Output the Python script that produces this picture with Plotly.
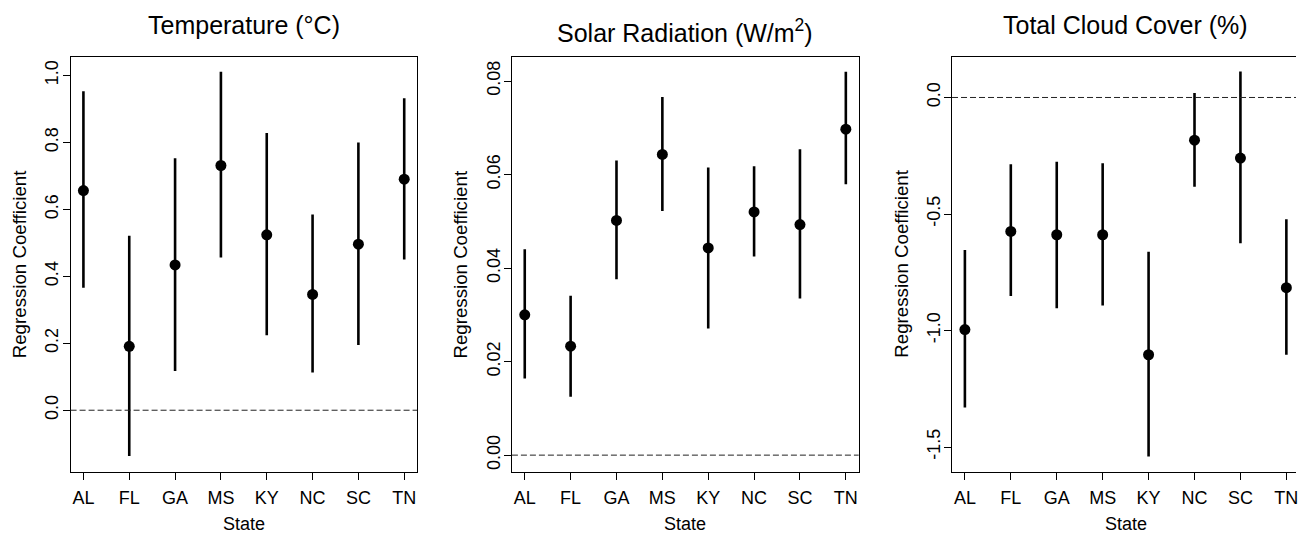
import plotly.graph_objects as go

# ---------------- data ----------------
states = ["AL", "FL", "GA", "MS", "KY", "NC", "SC", "TN"]

temp_est = [0.656, 0.191, 0.434, 0.731, 0.524, 0.346, 0.496, 0.690]
temp_lo = [0.366, -0.137, 0.117, 0.456, 0.224, 0.113, 0.195, 0.450]
temp_hi = [0.953, 0.521, 0.753, 1.011, 0.828, 0.585, 0.800, 0.932]

solar_est = [0.0300, 0.0233, 0.0502, 0.0643, 0.0443, 0.0520, 0.0493, 0.0697]
solar_lo = [0.0164, 0.0125, 0.0376, 0.0522, 0.0271, 0.0425, 0.0335, 0.0579]
solar_hi = [0.0440, 0.0341, 0.0630, 0.0766, 0.0615, 0.0618, 0.0654, 0.0820]

cloud_est = [-0.996, -0.575, -0.589, -0.589, -1.104, -0.183, -0.260, -0.816]
cloud_lo = [-1.330, -0.852, -0.904, -0.893, -1.541, -0.383, -0.626, -1.104]
cloud_hi = [-0.655, -0.286, -0.276, -0.282, -0.662, 0.019, 0.111, -0.523]

temp_ticks = [0.0, 0.2, 0.4, 0.6, 0.8, 1.0]
temp_ticktext = ["0.0", "0.2", "0.4", "0.6", "0.8", "1.0"]
solar_ticks = [0.00, 0.02, 0.04, 0.06, 0.08]
solar_ticktext = ["0.00", "0.02", "0.04", "0.06", "0.08"]
cloud_ticks = [0.0, -0.5, -1.0, -1.5]
cloud_ticktext = ["0.0", "-0.5", "-1.0", "-1.5"]

titles = ["Temperature (°C)", "Solar Radiation (W/m<sup>2</sup>)", "Total Cloud Cover (%)"]
xlabel = "State"
ylabel = "Regression Coefficient"
reference_value = 0

# ---------------- layout geometry ----------------
W, H = 1298, 534
FONT = "Arial, Liberation Sans, sans-serif"


def px_x(p):
    return p / W


def px_y(p):
    return 1 - p / H


panel_left = [70.7, 512.7, 953.5]
panel_right = [417.7, 860.0, 1298.0]
top_px, bot_px = 56.7, 471.5
x_ranges = [[0.72, 8.28], [0.72, 8.28], [0.72, 8.21]]
y_ranges = [[-0.183, 1.056], [-0.0035, 0.0852], [-1.605, 0.175]]
title_y = [25, 31, 25]

fig = go.Figure()
xpos = list(range(1, len(states) + 1))

panels = [
    (temp_est, temp_lo, temp_hi, temp_ticks, temp_ticktext),
    (solar_est, solar_lo, solar_hi, solar_ticks, solar_ticktext),
    (cloud_est, cloud_lo, cloud_hi, cloud_ticks, cloud_ticktext),
]

layout_axes = {}
annotations = []
shapes = []
for i, (est, lo, hi, tv, tt) in enumerate(panels):
    sfx = "" if i == 0 else str(i + 1)
    fig.add_trace(go.Scatter(
        x=xpos, y=est,
        mode="markers",
        marker=dict(color="black", size=11, symbol="circle"),
        error_y=dict(type="data", symmetric=False,
                     array=[h - e for h, e in zip(hi, est)],
                     arrayminus=[e - l for e, l in zip(est, lo)],
                     color="black", thickness=2.6, width=0),
        xaxis="x" + sfx, yaxis="y" + sfx, showlegend=False,
        hoverinfo="skip",
    ))
    layout_axes["xaxis" + sfx] = dict(
        domain=[px_x(panel_left[i]), px_x(panel_right[i])],
        range=x_ranges[i], anchor="y" + sfx,
        tickmode="array", tickvals=xpos, ticktext=states,
        ticks="outside", ticklen=7, tickwidth=1, tickcolor="black",
        showline=True, linecolor="black", linewidth=1, mirror=True,
        showgrid=False, zeroline=False,
        tickfont=dict(family=FONT, size=18, color="black"),
        ticklabelstandoff=3, ticklabeloverflow="allow",
    )
    layout_axes["yaxis" + sfx] = dict(
        domain=[px_y(bot_px), px_y(top_px)],
        range=y_ranges[i], anchor="x" + sfx,
        tickmode="array", tickvals=tv, ticktext=tt,
        ticks="outside", ticklen=7, tickwidth=1, tickcolor="black",
        showline=True, linecolor="black", linewidth=1, mirror=(i < 2),
        showgrid=False, zeroline=False, tickangle=-90,
        tickfont=dict(family=FONT, size=18, color="black"),
        ticklabelstandoff=-3,
    )
    shapes.append(dict(
        type="line", xref=("x" + sfx) + " domain", yref="y" + sfx,
        x0=0, x1=1, y0=reference_value, y1=reference_value,
        line=dict(color="#222222", width=1, dash="6px,3px"),
    ))
    cx = (panel_left[i] + (panel_right[i] if i < 2 else 1301.2)) / 2
    annotations.append(dict(
        text=titles[i], x=px_x(cx), y=px_y(title_y[i]), xref="paper", yref="paper",
        xanchor="center", yanchor="middle", showarrow=False,
        font=dict(family=FONT, size=25, color="black"),
    ))
    annotations.append(dict(
        text=xlabel, x=px_x(cx), y=px_y(524), xref="paper", yref="paper",
        xanchor="center", yanchor="middle", showarrow=False,
        font=dict(family=FONT, size=18, color="black"),
    ))
    annotations.append(dict(
        text=ylabel, x=px_x(panel_left[i] - 51.5), y=px_y((top_px + bot_px) / 2),
        xref="paper", yref="paper", textangle=-90,
        xanchor="center", yanchor="middle", showarrow=False,
        font=dict(family=FONT, size=18.7, color="black"),
    ))

fig.update_layout(
    width=W, height=H,
    margin=dict(l=0, r=0, t=0, b=0),
    paper_bgcolor="white", plot_bgcolor="white",
    annotations=annotations, shapes=shapes,
    showlegend=False,
    **layout_axes,
)

fig.write_html(
    "out.html",
    config={"displayModeBar": False, "staticPlot": True},
    post_script="document.body.style.margin='0';document.body.style.overflow='hidden';",
)
